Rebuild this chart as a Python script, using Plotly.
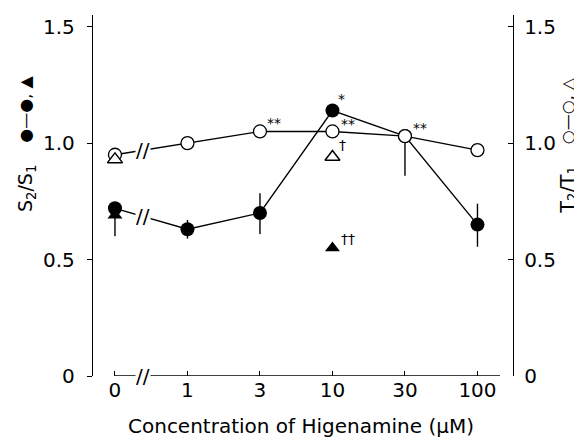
import numpy as np
import plotly.graph_objects as go

# ---------------- data ----------------
conc_labels = ["0", "1", "3", "10", "30", "100"]          # Higenamine (µM)
s_ratio = [0.72, 0.63, 0.70, 1.14, 1.03, 0.65]            # S2/S1 (filled circles)
s_err_plus = [0.00, 0.04, 0.085, 0.00, 0.00, 0.09]
s_err_minus = [0.12, 0.04, 0.09, 0.00, 0.17, 0.095]
t_ratio = [0.95, 1.00, 1.05, 1.05, 1.03, 0.97]            # T2/T1 (open circles)
tri_conc = ["0", "10"]                                     # triangle groups
s_tri = [0.69, 0.55]                                       # filled triangles
t_tri = [0.93, 0.94]                                       # open triangles
y_ticks = [0, 0.5, 1.0, 1.5]
y_ticktext = ["0", "0.5", "1.0", "1.5"]

xi = list(range(len(conc_labels)))
tri_x = [conc_labels.index(c) for c in tri_conc]

FONT = "DejaVu Sans"
BLACK = "#000000"

fig = go.Figure()

# T2/T1 open circles (right axis)
fig.add_trace(go.Scatter(
    x=xi, y=t_ratio, yaxis="y2", mode="lines+markers",
    line=dict(color=BLACK, width=1.4),
    marker=dict(symbol="circle", size=13, color="white",
                line=dict(color=BLACK, width=1.3)),
    showlegend=False))
fig.add_trace(go.Scatter(
    x=tri_x, y=t_tri, yaxis="y2", mode="markers",
    marker=dict(symbol="triangle-up", size=13, color="white",
                line=dict(color=BLACK, width=1.5)),
    showlegend=False))

# S2/S1 filled circles (left axis)
fig.add_trace(go.Scatter(
    x=xi, y=s_ratio, mode="lines+markers",
    line=dict(color=BLACK, width=1.4),
    marker=dict(symbol="circle", size=14, color=BLACK),
    error_y=dict(type="data", symmetric=False, array=s_err_plus,
                 arrayminus=s_err_minus, width=0, thickness=1.4, color=BLACK),
    showlegend=False))
fig.add_trace(go.Scatter(
    x=tri_x, y=s_tri, mode="markers",
    marker=dict(symbol="triangle-up", size=13, color=BLACK),
    showlegend=False))

# ---------- axis break marks ----------
break_x = 0.39
y_t_break = float(np.interp(break_x, xi, t_ratio))
y_s_break = float(np.interp(break_x, xi, s_ratio))
for yb in (y_t_break, y_s_break, 0.0):
    fig.add_annotation(x=break_x, y=yb, xref="x", yref="y", text="//",
                       showarrow=False, bgcolor="white", borderpad=0,
                       font=dict(family=FONT, size=20, color=BLACK))

# x-axis baseline (starts at first category, like the original)
fig.add_shape(type="line", xref="x", yref="y", x0=0, x1=5.31, y0=0, y1=0,
              line=dict(color=BLACK, width=1.3), layer="below")

# significance marks
marks = [
    (3.12, 1.19, "*"),
    (3.21, 1.08, "**"),
    (2.19, 1.085, "**"),
    (4.21, 1.065, "**"),
    (3.14, 0.99, "†"),
    (3.21, 0.59, "††"),
]
for mx, my, mt in marks:
    fig.add_annotation(x=mx, y=my, xref="x", yref="y", text=mt,
                       showarrow=False,
                       font=dict(family=FONT, size=14, color=BLACK))

# axis titles as annotations (rotated), with separate symbol keys
def side_label(x, y, text, size):
    fig.add_annotation(x=x, y=y, xref="paper", yref="paper", text=text,
                       textangle=-90, xanchor="center", yanchor="middle",
                       showarrow=False,
                       font=dict(family=FONT, size=size, color=BLACK))

side_label(-0.160, 0.52, "S<sub>2</sub>/S<sub>1</sub>", 19)
side_label(-0.160, 0.74, "●—●, ▲", 16)
side_label(1.130, 0.515, "T<sub>2</sub>/T<sub>1</sub>", 19)
side_label(1.130, 0.735, "○—○, △", 16)

fig.add_annotation(x=0.495, y=-0.138, xref="paper", yref="paper",
                   xanchor="center", yanchor="middle",
                   text="Concentration of Higenamine (μM)",
                   showarrow=False, font=dict(family=FONT, size=20, color=BLACK))

yaxis_common = dict(range=[0, 1.55], tickvals=y_ticks, ticktext=y_ticktext,
                    showline=True, linecolor=BLACK, linewidth=1.3,
                    showgrid=False, zeroline=False, ticklen=5, tickwidth=1.3,
                    tickcolor=BLACK,
                    tickfont=dict(family=FONT, size=20, color=BLACK))

fig.update_layout(
    width=582, height=446,
    margin=dict(l=85, r=77, t=7, b=78),
    paper_bgcolor="white", plot_bgcolor="white",
    font=dict(family=FONT, color=BLACK),
    xaxis=dict(range=[-0.303, 5.49], tickvals=xi, ticktext=conc_labels,
               showline=False, showgrid=False, zeroline=False,
               ticks="inside", ticklen=5, tickwidth=1.3, tickcolor=BLACK,
               ticklabelstandoff=0,
               tickfont=dict(family=FONT, size=20, color=BLACK)),
    yaxis=dict(**yaxis_common, ticks="outside", ticklabelstandoff=8),
    yaxis2=dict(**yaxis_common, overlaying="y", side="right",
                ticks="inside", ticklabelstandoff=6),
)

fig.write_html("out.html")
